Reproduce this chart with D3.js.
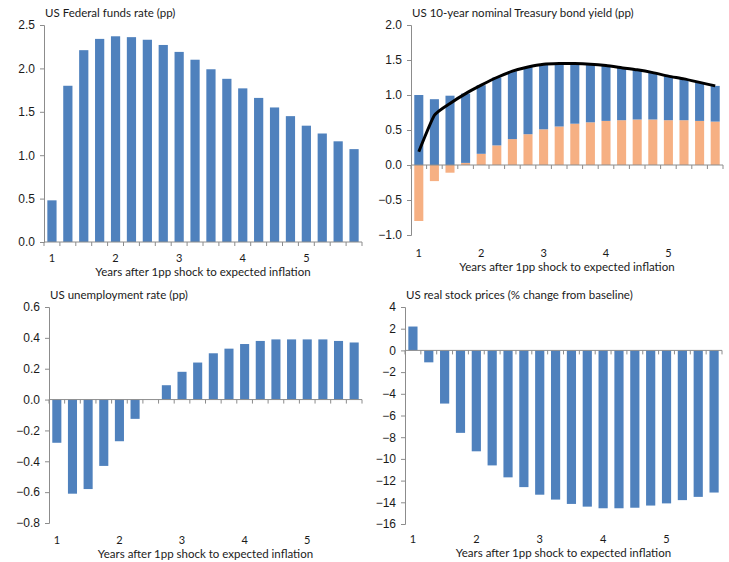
<!DOCTYPE html>
<html>
<head>
<meta charset="utf-8">
<script src="https://cdn.jsdelivr.net/npm/d3@7"></script>
<style>
  body { margin: 0; background: #fff; }
  svg { display: block; font-family: Lato, "Open Sans", sans-serif; }
  .tick-label { font-size: 12px; fill: #1a1a1a; }
  .year { font-size: 11px; fill: #1a1a1a; }
  .title { font-size: 11.5px; fill: #1a1a1a; }
</style>
</head>
<body>
<svg id="chart" width="729" height="562"></svg>
<script>
// quarters after the shock, 20 per panel; year labels every 4th quarter
var quarters = d3.range(1, 21);
var yearLabels = ["1", "2", "3", "4", "5"];
var xTitle = "Years after 1pp shock to expected inflation";

var fedFunds = [0.48, 1.80, 2.21, 2.34, 2.37, 2.36, 2.33, 2.27, 2.19, 2.10,
                1.99, 1.88, 1.77, 1.66, 1.55, 1.45, 1.34, 1.25, 1.16, 1.07];

// 10-year yield split into two parts, black line is the total
var bondBlue   = [1.00, 0.94, 0.99, 0.99, 0.98, 0.97, 0.97, 0.96, 0.93, 0.90,
                  0.86, 0.83, 0.79, 0.75, 0.71, 0.67, 0.63, 0.59, 0.55, 0.51];
var bondOrange = [-0.80, -0.23, -0.11, 0.03, 0.16, 0.28, 0.37, 0.44, 0.51, 0.55,
                  0.59, 0.61, 0.63, 0.64, 0.65, 0.65, 0.64, 0.64, 0.63, 0.62];
var bondTotal  = [0.19, 0.71, 0.88, 1.02, 1.14, 1.25, 1.34, 1.40, 1.44, 1.45,
                  1.45, 1.44, 1.42, 1.39, 1.36, 1.32, 1.27, 1.23, 1.18, 1.13];

var unemployment = [-0.28, -0.61, -0.58, -0.43, -0.27, -0.125, 0.0, 0.093, 0.18, 0.24,
                    0.30, 0.33, 0.36, 0.38, 0.39, 0.39, 0.39, 0.39, 0.38, 0.37];

var stocks = [2.2, -1.1, -4.9, -7.6, -9.3, -10.6, -11.7, -12.6, -13.3, -13.75,
              -14.15, -14.4, -14.55, -14.55, -14.5, -14.3, -14.1, -13.8, -13.5, -13.1];

var blue = "#4f81bd", orange = "#f6b083", axisGrey = "#8c8c8c";

var svg = d3.select("#chart");

function panel(cfg) {
    var g = svg.append("g");

    var x = d3.scaleBand()
        .domain(quarters)
        .range(cfg.xr)
        .paddingInner(0.42)
        .paddingOuter(0.21);
    var xb = d3.scaleLinear().domain([0, quarters.length]).range(cfg.xr);
    var y = d3.scaleLinear().domain(cfg.yDomain).range(cfg.yr);

    // bars
    if (cfg.stack) {
        var rows = quarters.map(function(q, i) {
            return { q: q, orange: bondOrange[i], blue: bondBlue[i] };
        });
        var series = d3.stack()
            .keys(["orange", "blue"])
            .offset(d3.stackOffsetDiverging)(rows);
        g.selectAll("g.series")
            .data(series)
          .enter().append("g")
            .attr("fill", function(s) { return s.key == "blue" ? blue : orange; })
          .selectAll("rect")
            .data(function(s) { return s; })
          .enter().append("rect")
            .attr("x", function(d) { return x(d.data.q); })
            .attr("width", x.bandwidth())
            .attr("y", function(d) { return y(Math.max(d[0], d[1])); })
            .attr("height", function(d) { return Math.abs(y(d[0]) - y(d[1])); });
    } else {
        g.selectAll("rect.bar")
            .data(cfg.values)
          .enter().append("rect")
            .attr("class", "bar")
            .attr("fill", blue)
            .attr("x", function(d, i) { return x(quarters[i]); })
            .attr("width", x.bandwidth())
            .attr("y", function(d) { return y(Math.max(0, d)); })
            .attr("height", function(d) { return Math.abs(y(d) - y(0)); });
    }

    // y axis
    var yAxis = d3.axisLeft(y)
        .tickValues(cfg.yTicks)
        .tickSize(4)
        .tickPadding(5)
        .tickFormat(cfg.fmt);
    var ya = g.append("g")
        .attr("transform", "translate(" + cfg.xr[0] + ",0)")
        .call(yAxis);
    ya.select(".domain").attr("stroke", axisGrey);
    ya.selectAll(".tick line").attr("stroke", axisGrey);
    ya.selectAll(".tick text")
        .attr("class", "tick-label")
        .style("font-size", "12px")
        .attr("font-family", null);

    // x axis along zero with ticks between bars
    var y0 = y(0);
    g.append("line")
        .attr("x1", cfg.xr[0]).attr("x2", cfg.xr[1])
        .attr("y1", y0).attr("y2", y0)
        .attr("stroke", axisGrey);
    g.selectAll("line.xtick")
        .data(d3.range(quarters.length + 1))
      .enter().append("line")
        .attr("class", "xtick")
        .attr("x1", function(i) { return xb(i); })
        .attr("x2", function(i) { return xb(i); })
        .attr("y1", y0).attr("y2", y0 + 4)
        .attr("stroke", axisGrey);

    // year labels below the plot
    g.selectAll("text.year")
        .data(yearLabels)
      .enter().append("text")
        .attr("class", "year")
        .attr("text-anchor", "middle")
        .attr("x", function(d, i) { return x(quarters[i * 4]) + x.bandwidth() / 2; })
        .attr("y", cfg.labelY)
        .text(function(d) { return d; });

    g.append("text")
        .attr("class", "title")
        .attr("text-anchor", "middle")
        .attr("x", (cfg.xr[0] + cfg.xr[1]) / 2)
        .attr("y", cfg.labelY + 14)
        .text(xTitle);

    g.append("text")
        .attr("class", "title")
        .attr("x", cfg.xr[0] + 1)
        .attr("y", cfg.yr[1] - 8)
        .text(cfg.title);

    if (cfg.stack) {
        var line = d3.line()
            .x(function(d, i) { return x(quarters[i]) + x.bandwidth() / 2; })
            .y(function(d) { return y(d); })
            .curve(d3.curveCardinal.tension(0.5));
        g.append("path")
            .datum(bondTotal)
            .attr("fill", "none")
            .attr("stroke", "#000")
            .attr("stroke-width", 3)
            .attr("stroke-linejoin", "round")
            .attr("d", line);
    }
}

panel({
    title: "US Federal funds rate (pp)",
    values: fedFunds,
    xr: [44, 362], yr: [242, 25],
    yDomain: [0, 2.5], yTicks: [0, 0.5, 1, 1.5, 2, 2.5],
    fmt: d3.format(".1f"), labelY: 262
});

panel({
    title: "US 10-year nominal Treasury bond yield (pp)",
    stack: true,
    xr: [411, 723], yr: [235, 25],
    yDomain: [-1, 2], yTicks: [-1, -0.5, 0, 0.5, 1, 1.5, 2],
    fmt: d3.format(".1f"), labelY: 257
});

panel({
    title: "US unemployment rate (pp)",
    values: unemployment,
    xr: [49, 362], yr: [523, 307],
    yDomain: [-0.8, 0.6], yTicks: [-0.8, -0.6, -0.4, -0.2, 0, 0.2, 0.4, 0.6],
    fmt: d3.format(".1f"), labelY: 544
});

panel({
    title: "US real stock prices (% change from baseline)",
    values: stocks,
    xr: [405, 722], yr: [524, 307],
    yDomain: [-16, 4], yTicks: d3.range(-16, 5, 2),
    fmt: d3.format("d"), labelY: 543
});
</script>
</body>
</html>
